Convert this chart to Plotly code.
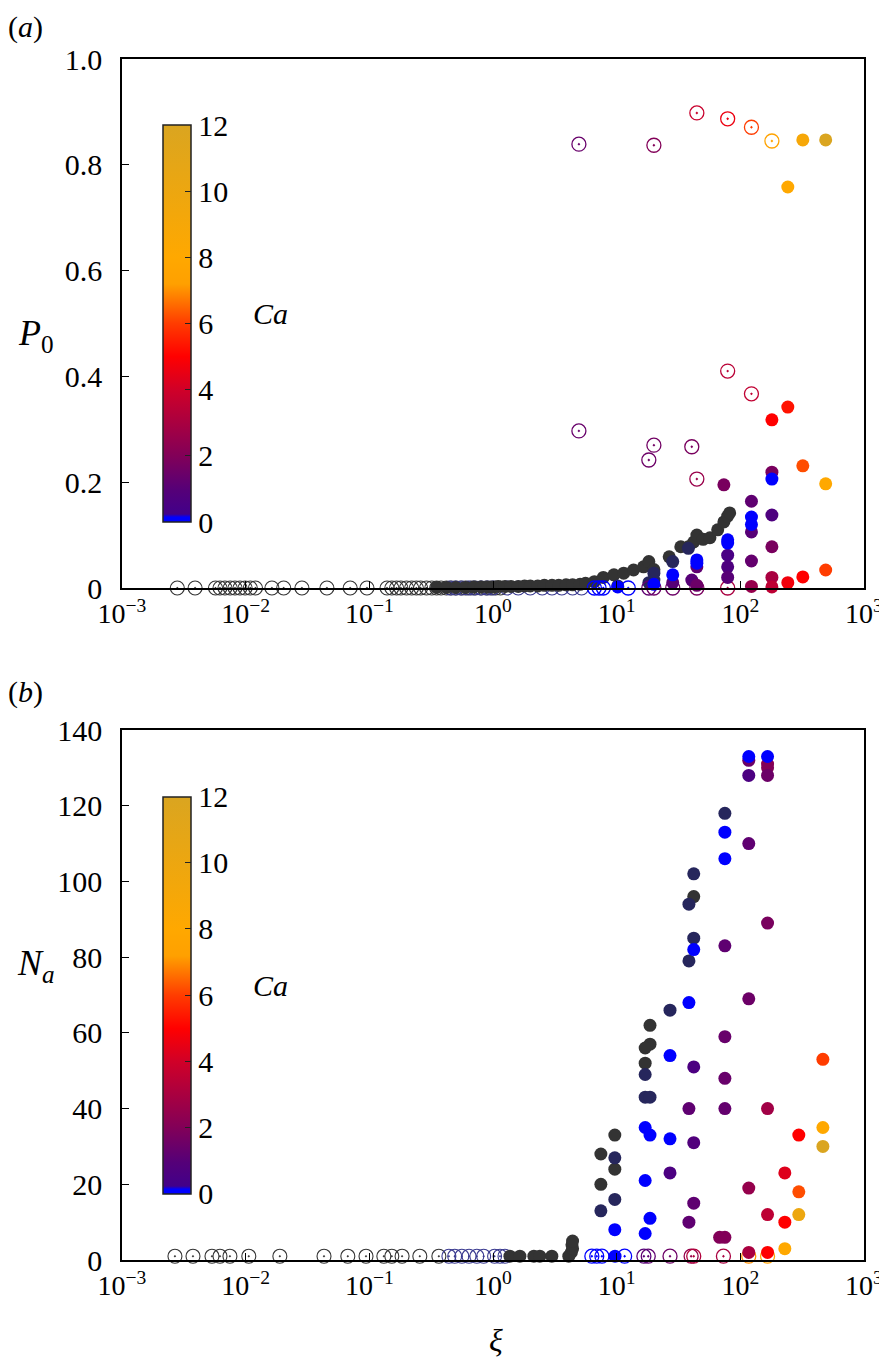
import plotly.graph_objects as go

# the page body adds an 8 px margin, so the figure is laid out in screen pixels minus that offset
OFF = 8
W, H = 887 - OFF, 1367 - OFF

# ---------------- panel (a): P0 vs xi ----------------
# open black circles lying on P0 = 0
a_black_open_x = [0.0028, 0.0039, 0.0057, 0.0062, 0.0068, 0.0075, 0.0082, 0.009, 0.0099, 0.0109,
                  0.012, 0.0163, 0.0203, 0.0285, 0.0454, 0.070, 0.0957, 0.139, 0.152, 0.166, 0.18,
                  0.2, 0.22, 0.24, 0.26, 0.29, 0.32, 0.35, 0.38, 0.42, 0.46, 0.5, 0.55, 0.6, 0.66,
                  0.72, 0.8, 0.88, 0.96, 1.05, 1.15]
a_black_open_y = [0.0] * len(a_black_open_x)
# open navy circles on P0 = 0
a_navy_open_x = [0.45, 0.5, 0.56, 0.63, 0.7, 0.8, 0.9, 1.0, 1.3, 1.6, 2.0, 2.5, 3.0, 3.6, 4.4, 5.2]
a_navy_open_y = [0.0] * len(a_navy_open_x)
# dark grey filled
a_grey_x = [0.35, 0.42, 0.5, 0.6, 0.7, 0.8, 0.9, 1.0, 1.1, 1.25, 1.4, 1.6, 1.8, 2.0, 2.3, 2.6, 3.0,
            3.4, 3.9, 4.4, 5.06, 5.6, 6.6, 7.8, 9.5, 11.4, 13.7, 16.5, 18.2, 20, 26.6, 33, 38, 42,
            44.5, 50, 56.8, 65.6, 73.6, 79, 82]
a_grey_y = [0.001, 0.001, 0.001, 0.001, 0.002, 0.002, 0.002, 0.002, 0.003, 0.003, 0.003, 0.003,
            0.004, 0.004, 0.004, 0.005, 0.005, 0.005, 0.006, 0.006, 0.007, 0.009, 0.012, 0.02,
            0.025, 0.028, 0.034, 0.04, 0.05, 0.035, 0.059, 0.078, 0.078, 0.087, 0.1, 0.092, 0.095,
            0.11, 0.125, 0.136, 0.142]
# navy filled
a_navy_x = [10.2, 18.2, 20, 20, 28.4, 38]
a_navy_y = [0.004, 0.01, 0.015, 0.028, 0.05, 0.075]
# coloured by Ca, open
a_open_x = [4.95, 20, 44.5, 79, 123, 180, 79, 123, 4.95, 20, 18.2, 40.5, 44.5,
            6.6, 7.2, 7.8, 12.4, 18.2, 20, 28.4, 44.5, 79]
a_open_y = [0.839, 0.837, 0.898, 0.887, 0.871, 0.845, 0.41, 0.367, 0.297, 0.27, 0.242, 0.267, 0.206,
            0, 0, 0, 0, 0, 0, 0, 0, 0]
a_open_ca = [1.4, 2.0, 3.8, 4.6, 6.0, 7.5, 3.4, 3.6, 1.4, 1.6, 1.5, 1.8, 2.6,
             0, 0, 0, 0, 1.2, 1.5, 1.5, 1.8, 3.0]
# coloured by Ca, filled
a_fill_x = [320, 490, 242, 242, 180, 320, 490, 73.6, 180, 123, 180, 123, 180, 123, 79, 79, 79,
            180, 180, 123, 242, 320, 490, 44.5, 40.5, 44.5, 28.4,
            180, 123, 123, 79, 79, 44.5, 44.5, 28.4, 20, 10.2]
a_fill_y = [0.847, 0.847, 0.758, 0.342, 0.318, 0.231, 0.197, 0.195, 0.219, 0.164, 0.138, 0.106,
            0.078, 0.051, 0.062, 0.04, 0.02, 0.02, 0.002, 0.003, 0.01, 0.021, 0.034, 0.04, 0.015,
            0.005, 0.01,
            0.206, 0.134, 0.12, 0.091, 0.085, 0.053, 0.047, 0.025, 0.007, 0.002]
a_fill_ca = [9, 12, 8, 5.3, 5.0, 6.2, 8.0, 1.8, 1.8, 1.2, 0.7, 1.0, 1.8, 1.3, 0.5, 0.7, 1.0,
             3.0, 3.5, 2.5, 4.7, 5.0, 6.0, 1.2, 1.0, 1.5, 1.0,
             0, 0, 0, 0, 0, 0, 0, 0, 0, 0]

# ---------------- panel (b): Na vs xi ----------------
b_black_open_x = [0.00268, 0.00375, 0.00534, 0.0062, 0.00746, 0.0106, 0.0189, 0.043, 0.067, 0.094,
                  0.131, 0.152, 0.184, 0.256, 0.365]
b_black_open_y = [1] * len(b_black_open_x)
b_navy_open_x = [0.44, 0.49, 0.56, 0.64, 0.74, 0.84, 1.03, 1.14, 1.25]
b_navy_open_y = [1] * len(b_navy_open_x)
b_grey_x = [1.37, 1.65, 2.14, 2.39, 2.99, 4.1, 4.3, 4.4, 4.35, 4.4, 7.45, 7.45, 9.66, 9.66,
            18.6, 18.6, 17, 17, 42]
b_grey_y = [1, 1, 1, 1, 1, 1, 2, 3, 4, 5, 28, 20, 33, 24, 62, 57, 56, 52, 96]
b_navy_x = [27, 17, 17, 18.6, 9.66, 9.66, 7.45, 42, 38.4, 42, 38.4, 75]
b_navy_y = [66, 49, 43, 43, 27, 16, 13, 102, 94, 85, 79, 118]
b_open_x = [117, 166, 73, 40, 42, 27, 18, 16.6, 11.6, 6.3, 6.9, 7.6]
b_open_y = [1] * len(b_open_x)
b_open_ca = [7.0, 7.5, 3.0, 2.5, 3.2, 1.5, 1.2, 1.0, 0, 0, 0, 0]
b_fill_x = [117, 166, 166, 117, 166, 117, 166, 75, 117, 42, 75, 75, 38.4, 75, 166, 42, 27, 42,
            38.4, 68, 75, 117, 166, 229, 297, 297, 229, 297, 465, 465, 465, 229, 117, 166,
            38.4, 27, 17, 18.6, 27, 17, 18.6, 17, 9.66, 42, 75, 75, 117, 166, 9.7]
b_fill_y = [132, 131, 130, 128, 128, 110, 89, 83, 69, 51, 59, 48, 40, 40, 40, 31, 23, 15,
            10, 6, 6, 19, 12, 23, 33, 18, 10, 12, 53, 35, 30, 3, 2, 2,
            68, 54, 35, 33, 32, 21, 11, 7, 8, 82, 113, 106, 133, 133, 1]
b_fill_ca = [1.5, 2.2, 2.0, 0.6, 1.5, 1.2, 1.8, 1.2, 1.5, 0.6, 1.4, 1.4, 1.2, 1.3, 2.8, 0.8,
             0.6, 1.2, 1.2, 2.0, 2.0, 2.5, 3.5, 4.3, 5.0, 6.2, 5.0, 10.0, 6.0, 8.0, 12.0, 8.0,
             3.0, 5.0,
             0, 0, 0, 0, 0, 0, 0, 0, 0, 0, 0, 0, 0, 0, 0]

ca_ticks = [0, 2, 4, 6, 8, 10, 12]
xi_ticks = [1e-3, 1e-2, 1e-1, 1e0, 1e1, 1e2, 1e3]
xi_text = ['10<sup>−3</sup>', '10<sup>−2</sup>', '10<sup>−1</sup>', '10<sup>0</sup>',
           '10<sup>1</sup>', '10<sup>2</sup>', '10<sup>3</sup>']
p0_ticks = [0, 0.2, 0.4, 0.6, 0.8, 1.0]
p0_text = ['0', '0.2', '0.4', '0.6', '0.8', '1.0']
na_ticks = [0, 20, 40, 60, 80, 100, 120, 140]

GREY = '#333333'
NAVY = '#26265c'
FONT = 'Liberation Serif, Times New Roman, serif'

ca_scale = [[0, '#0000ff'], [0.012, '#0000ff'], [0.02, '#42008a'], [0.08, '#550078'],
            [0.167, '#820058'], [0.333, '#d00028'], [0.417, '#ff0000'], [0.5, '#ff3c00'],
            [0.6, '#ffa000'], [0.667, '#ffa800'], [1, '#daa520']]


def fx(p):  # screen pixel -> paper x
    return (p - OFF) / W


def fy(p):  # screen pixel -> paper y
    return 1 - (p - OFF) / H


SZ = 13
fig = go.Figure()


def add_panel(xa, ya, cax, bo_x, bo_y, no_x, no_y, g_x, g_y, n_x, n_y, o_x, o_y, o_c, f_x, f_y, f_c):
    fig.add_trace(go.Scatter(x=bo_x, y=bo_y, mode='markers', xaxis=xa, yaxis=ya, cliponaxis=False,
                             marker=dict(symbol='circle-open-dot', size=SZ + 1, color=GREY, line=dict(width=1.1))))
    fig.add_trace(go.Scatter(x=no_x, y=no_y, mode='markers', xaxis=xa, yaxis=ya, cliponaxis=False,
                             marker=dict(symbol='circle-open-dot', size=SZ + 1, color='#3a3a90', line=dict(width=1.1))))
    fig.add_trace(go.Scatter(x=g_x, y=g_y, mode='markers', xaxis=xa, yaxis=ya, cliponaxis=False,
                             marker=dict(symbol='circle', size=SZ, color=GREY)))
    fig.add_trace(go.Scatter(x=n_x, y=n_y, mode='markers', xaxis=xa, yaxis=ya, cliponaxis=False,
                             marker=dict(symbol='circle', size=SZ, color=NAVY)))
    fig.add_trace(go.Scatter(x=o_x, y=o_y, mode='markers', xaxis=xa, yaxis=ya, cliponaxis=False,
                             marker=dict(symbol='circle-open-dot', size=SZ + 1, color=o_c, coloraxis=cax,
                                         line=dict(width=1.3))))
    fig.add_trace(go.Scatter(x=f_x, y=f_y, mode='markers', xaxis=xa, yaxis=ya, cliponaxis=False,
                             marker=dict(symbol='circle', size=SZ, color=f_c, coloraxis=cax)))


add_panel('x', 'y', 'coloraxis', a_black_open_x, a_black_open_y, a_navy_open_x, a_navy_open_y,
          a_grey_x, a_grey_y, a_navy_x, a_navy_y, a_open_x, a_open_y, a_open_ca,
          a_fill_x, a_fill_y, a_fill_ca)
add_panel('x2', 'y2', 'coloraxis2', b_black_open_x, b_black_open_y, b_navy_open_x, b_navy_open_y,
          b_grey_x, b_grey_y, b_navy_x, b_navy_y, b_open_x, b_open_y, b_open_ca,
          b_fill_x, b_fill_y, b_fill_ca)

xdom = [fx(122), fx(864)]
ydom_a = [fy(588), fy(59)]
ydom_b = [fy(1260), fy(730)]

axis_common = dict(showline=True, linecolor='black', linewidth=1.5, mirror=True, showgrid=False,
                   zeroline=False, ticks='inside', ticklen=7, tickcolor='black', tickwidth=1.2,
                   tickfont=dict(family=FONT, size=30, color='black'))


def cbar(ymid):
    return dict(x=fx(163), xanchor='left', y=ymid, yanchor='middle', len=397, lenmode='pixels',
                thickness=28, thicknessmode='pixels', outlinewidth=1.5, outlinecolor='#222',
                tickvals=ca_ticks, ticks='inside', ticklen=6, tickcolor='#222',
                tickfont=dict(family=FONT, size=30, color='black'), xpad=0, ypad=0)


fig.update_layout(
    width=W, height=H, plot_bgcolor='white', paper_bgcolor='white', showlegend=False,
    margin=dict(l=0, r=0, t=0, b=0, autoexpand=False),
    font=dict(family=FONT, size=30, color='black'),
    xaxis=dict(axis_common, type='log', range=[-3, 3], domain=xdom, anchor='y',
               tickvals=xi_ticks, ticktext=xi_text, tickfont=dict(family=FONT, size=28)),
    yaxis=dict(axis_common, range=[0, 1], domain=ydom_a, anchor='x',
               tickvals=p0_ticks, ticktext=p0_text, ticklabelstandoff=12),
    xaxis2=dict(axis_common, type='log', range=[-3, 3], domain=xdom, anchor='y2',
                tickvals=xi_ticks, ticktext=xi_text, tickfont=dict(family=FONT, size=28)),
    yaxis2=dict(axis_common, range=[0, 140], domain=ydom_b, anchor='x2',
                tickvals=na_ticks, ticklabelstandoff=12),
    coloraxis=dict(cmin=0, cmax=12, colorscale=ca_scale, colorbar=cbar(fy(323.5))),
    coloraxis2=dict(cmin=0, cmax=12, colorscale=ca_scale, colorbar=cbar(fy(995))),
)

annots = [
    dict(text='(<i>a</i>)', x=fx(25), y=fy(27), size=30),
    dict(text='(<i>b</i>)', x=fx(25), y=fy(692), size=30),
    dict(text='<i>P</i><sub>0</sub>', x=fx(36), y=fy(335), size=36),
    dict(text='<i>N</i><sub><i>a</i></sub>', x=fx(36), y=fy(965), size=36),
    dict(text='<i>Ca</i>', x=fx(270), y=fy(313), size=30),
    dict(text='<i>Ca</i>', x=fx(270), y=fy(985), size=30),
    dict(text='<i>ξ</i>', x=fx(496), y=fy(1340), size=32),
]
for a in annots:
    fs = a.pop('size')
    fig.add_annotation(xref='paper', yref='paper', showarrow=False, xanchor='center',
                       yanchor='middle', font=dict(family=FONT, size=fs, color='black'), **a)

fig.write_html("out.html")
